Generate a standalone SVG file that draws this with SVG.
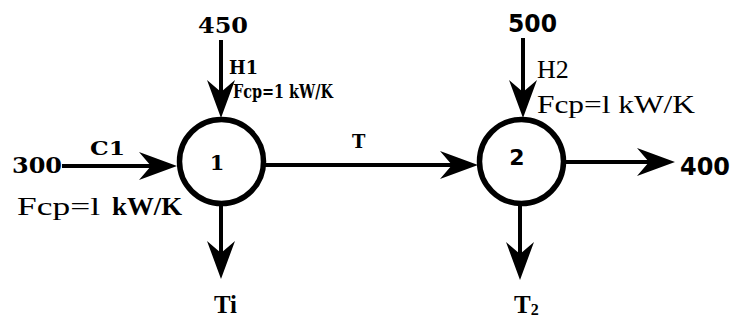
<svg xmlns="http://www.w3.org/2000/svg" width="732" height="321" viewBox="0 0 732 321">
<style>
.ln{stroke:#000;stroke-width:4;fill:none}
.nd{stroke:#000;stroke-width:5.5;fill:#fff}
.hs{font-family:"DejaVu Serif",serif;font-weight:bold;fill:#000}
.sb{font-family:"DejaVu Sans","Liberation Sans",sans-serif;font-weight:bold;fill:#000}
.tr{font-family:"Liberation Serif","Times New Roman",serif;fill:#000}
.tb{font-family:"Liberation Serif","Times New Roman",serif;font-weight:bold;fill:#000}
</style>
<defs>
<marker id="ah" viewBox="0 -15 40 30" markerWidth="40" markerHeight="30" markerUnits="userSpaceOnUse" refX="12" refY="0" orient="auto" overflow="visible">
<path d="M0,-14 L38,0 L0,14 L12,0 Z" fill="#000"/>
</marker>
</defs>
<rect width="732" height="321" fill="#fff"/>
<g id="connectors">
<line class="ln" x1="62" y1="166" x2="151" y2="166" marker-end="url(#ah)"/>
<line class="ln" x1="221" y1="40" x2="221" y2="92" marker-end="url(#ah)"/>
<line class="ln" x1="265" y1="165" x2="452" y2="165" marker-end="url(#ah)"/>
<line class="ln" x1="523" y1="38" x2="523" y2="92" marker-end="url(#ah)"/>
<line class="ln" x1="565" y1="162" x2="649" y2="162" marker-end="url(#ah)"/>
<line class="ln" x1="221" y1="205" x2="221" y2="253" marker-end="url(#ah)"/>
<line class="ln" x1="520" y1="205" x2="520" y2="254" marker-end="url(#ah)"/>
</g>
<g id="node1">
<circle class="nd" cx="221.5" cy="161.5" r="42"/>
<text class="hs" x="217" y="170" font-size="21" text-anchor="middle">1</text>
</g>
<g id="node2">
<circle class="nd" cx="521.5" cy="161.5" r="42"/>
<text class="sb" x="517" y="165" font-size="22" text-anchor="middle">2</text>
</g>
<g id="labels">
<text class="hs" x="198" y="33" font-size="22" textLength="50" lengthAdjust="spacingAndGlyphs">450</text>
<text class="hs" x="229" y="74" font-size="19" textLength="29" lengthAdjust="spacingAndGlyphs">H1</text>
<text class="hs" x="233" y="98" font-size="19" textLength="100" lengthAdjust="spacingAndGlyphs">Fcp=1 kW/K</text>
<text class="hs" x="12" y="173" font-size="22" textLength="50" lengthAdjust="spacingAndGlyphs">300</text>
<text class="hs" x="90" y="155" font-size="18" textLength="35" lengthAdjust="spacingAndGlyphs">C1</text>
<text class="tr" x="17" y="215" font-size="26" textLength="83" lengthAdjust="spacingAndGlyphs">Fcp=l</text>
<text class="tb" x="112" y="215" font-size="26" textLength="70" lengthAdjust="spacingAndGlyphs">kW/K</text>
<text class="hs" x="352" y="148" font-size="18">T</text>
<text class="sb" x="508" y="32" font-size="25" textLength="49" lengthAdjust="spacingAndGlyphs">500</text>
<text class="tr" x="537" y="78" font-size="26">H2</text>
<text class="tr" x="537" y="113" font-size="25" textLength="158" lengthAdjust="spacingAndGlyphs">Fcp=l kW/K</text>
<text class="sb" x="680" y="175" font-size="25" textLength="50" lengthAdjust="spacingAndGlyphs">400</text>
<text class="tb" x="214" y="313" font-size="25" textLength="23" lengthAdjust="spacingAndGlyphs">Ti</text>
<text class="tb" x="514" y="313" font-size="25">T<tspan font-size="16" dy="2">2</tspan></text>
</g>
</svg>
